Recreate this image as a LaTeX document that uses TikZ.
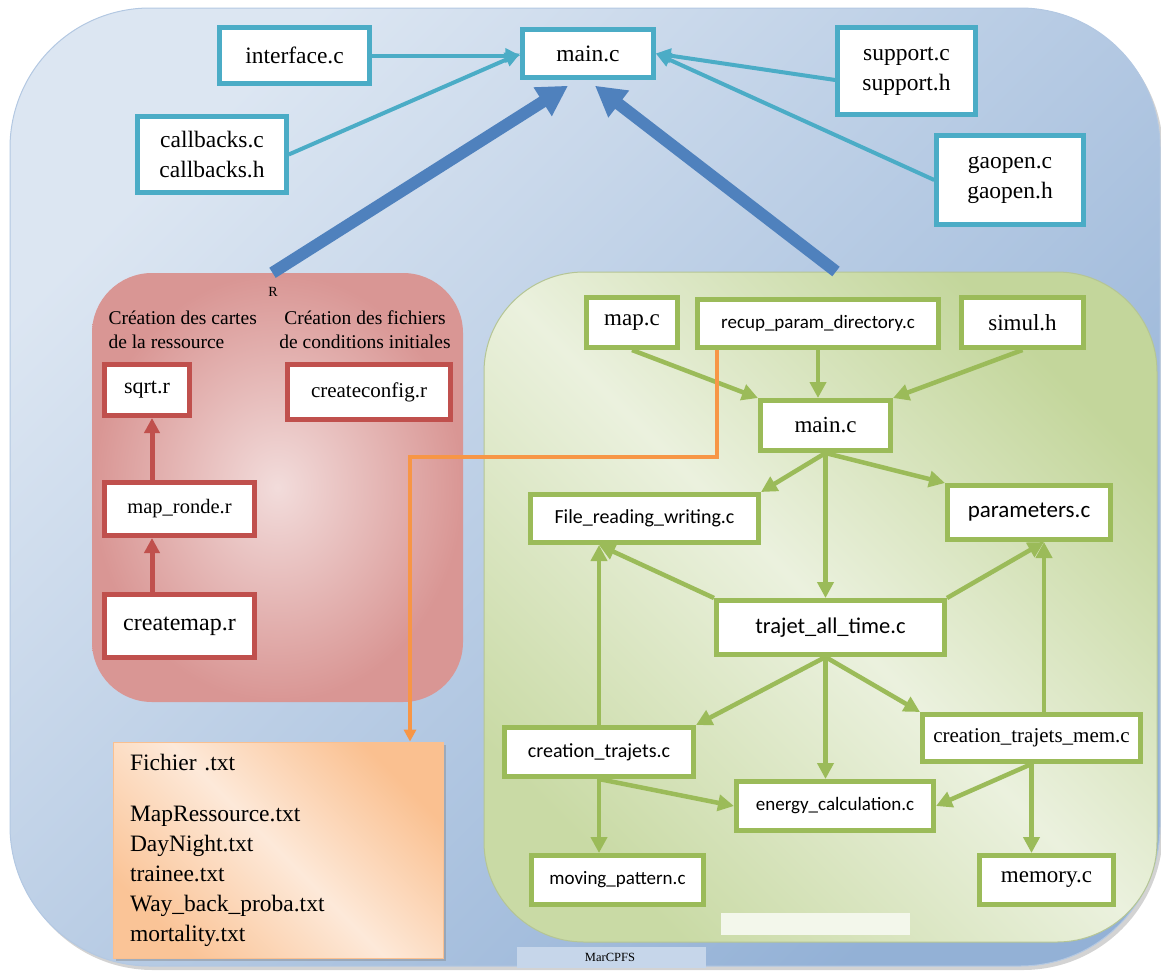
\documentclass[tikz,border=0pt]{standalone}
\usepackage{fontspec}
\setmainfont{Liberation Serif}
\newfontfamily\calib{Carlito}
\usetikzlibrary{arrows.meta,shadows,calc}

\definecolor{tealc}{HTML}{4BACC6}
\definecolor{bigblue}{HTML}{4F81BD}
\definecolor{redc}{HTML}{C0504D}
\definecolor{greenc}{HTML}{9BBB59}
\definecolor{orangec}{HTML}{F79646}
\definecolor{bluelight}{HTML}{DCE6F2}
\definecolor{bluedark}{HTML}{93B1D6}
\definecolor{pinklight}{HTML}{F2DCDB}
\definecolor{pinkdark}{HTML}{D99694}
\definecolor{greenlight}{HTML}{EBF1DE}
\definecolor{greendark}{HTML}{C3D69B}
\definecolor{peachlight}{HTML}{FDE9D9}
\definecolor{peachdark}{HTML}{FAC090}

\tikzset{
  serif/.style={font=\fontsize{#1}{#1}\selectfont},
  sans/.style={font=\calib\fontsize{#1}{#1}\selectfont},
  tbox/.style={draw=tealc, line width=4.5pt, fill=white, align=center, inner sep=0pt,
    font=\fontsize{23.5}{30}\selectfont},
  rbox/.style={draw=redc, line width=5pt, fill=white, inner sep=0pt},
  gbox/.style={draw=greenc, line width=5pt, fill=white, inner sep=0pt},
  tarrow/.style={draw=tealc, line width=4pt, -{Triangle[length=15pt,width=14pt]}},
  bigarrow/.style={draw=bigblue, line width=12pt, -{Triangle[length=30pt,width=32pt]}},
  rarrow/.style={draw=redc, line width=5pt, -{Triangle[length=15pt,width=15pt]}},
  garrow/.style={draw=greenc, line width=4.5pt, -{Triangle[length=16pt,width=16pt]}},
  oarrow/.style={draw=orangec, line width=3.5pt, -{Triangle[length=12pt,width=12pt]}},
}

\begin{document}
\begin{tikzpicture}[x=1pt,y=-1pt]
\useasboundingbox (0,0) rectangle (1161,972);

% groups
\node[top color=bluelight, bottom color=bluedark, shading angle=45,
  draw=bluedark!70, line width=1pt, rounded corners=140pt,
  drop shadow={opacity=0.35, shadow xshift=3pt, shadow yshift=-4pt},
  minimum width=1150pt, minimum height=958pt] (outer) at (585,487) {};
\node[inner color=pinklight, outer color=pinkdark, rounded corners=60pt,
  minimum width=371pt, minimum height=429pt] (rgroup) at (277.5,487.5) {};
\node[top color=greendark, bottom color=greendark!85!greenlight, middle color=greenlight,
  shading angle=-45, draw=greendark!80!gray, line width=1pt, rounded corners=100pt,
  minimum width=673pt, minimum height=670pt] (ggroup) at (820.5,607) {};
\fill[greenlight!60!white] (721,913) rectangle (910,935);
\fill[bluelight!70!bluedark] (517,947) rectangle (706,968);

% top files
\node[tbox, minimum width=150pt, minimum height=56pt] (iface) at (294.5,55.5) {interface.c};
\node[tbox, minimum width=131pt, minimum height=48pt] (mainc) at (588,53.5) {main.c};
\node[tbox, minimum width=149pt, minimum height=76pt] (callb) at (212,154.5) {callbacks.c\\callbacks.h};
\node[tbox, minimum width=138pt, minimum height=87pt] (support) at (906.5,71) {support.c\\support.h};
\node[tbox, minimum width=147pt, minimum height=89pt] (gaopen) at (1010,180) {gaopen.c\\gaopen.h};

\draw[tarrow] (iface.east) -- (iface.east -| mainc.west);
\draw[tarrow] (callb.east) -- (mainc.west);
\draw[tarrow] ([yshift=-9pt]support.west) -- (mainc.east);
\draw[tarrow] (gaopen.west) -- (mainc.east);

% R part
\node[serif=14] (rlabel) at (273,292) {R};
\node[serif=19.5, align=left, anchor=west] (cartes) at (105,330) {Création des cartes\\[4.5pt]de la ressource};
\node[serif=19.5, align=center] (fichiers) at (365,330) {Création des fichiers\\[4.5pt]de conditions initiales};
\node[rbox, serif=22, minimum width=85pt, minimum height=51pt] (sqrt) at (147,390) {sqrt.r};
\node[rbox, serif=21, minimum width=163pt, minimum height=55pt] (cconfig) at (369,392) {createconfig.r};
\node[rbox, serif=20.5, minimum width=150pt, minimum height=53pt] (mapronde) at (179.5,509) {map\_ronde.r};
\node[rbox, serif=24, minimum width=150pt, minimum height=63pt] (cmap) at (179.5,626) {createmap.r};

\draw[rarrow] ([xshift=5pt]sqrt.south |- mapronde.north) -- ([xshift=5pt]sqrt.south);
\draw[rarrow] ([xshift=5pt]sqrt.south |- cmap.north) -- ([xshift=5pt]sqrt.south |- mapronde.south);

% C part
\node[gbox, serif=23, minimum width=91pt, minimum height=50pt] (mapc) at (632,322.5) {map.c};
\node[gbox, sans=19, minimum width=241pt, minimum height=48pt] (recup) at (818,323.5) {recup\_param\_directory.c};
\node[gbox, serif=23, minimum width=122pt, minimum height=50pt] (simul) at (1022.5,322.5) {simul.h};
\node[gbox, serif=23, minimum width=130pt, minimum height=50pt] (gmain) at (825.5,425.5) {main.c};
\node[gbox, sans=20, minimum width=228pt, minimum height=48pt] (filerw) at (644.5,518.5) {File\_reading\_writing.c};
\node[gbox, sans=23, minimum width=163pt, minimum height=54pt] (params) at (1029,512.5) {parameters.c};
\node[gbox, sans=22.5, minimum width=228pt, minimum height=54pt] (trajet) at (830.5,627.5) {trajet\_all\_time.c};
\node[gbox, sans=20, minimum width=189pt, minimum height=49pt] (crtraj) at (599,752) {creation\_trajets.c};
\node[gbox, serif=21, minimum width=218pt, minimum height=47pt] (crmem) at (1031.5,738) {creation\_trajets\_mem.c};
\node[gbox, sans=19, minimum width=197pt, minimum height=49pt] (energy) at (835,806) {energy\_calculation.c};
\node[gbox, sans=19, minimum width=172pt, minimum height=49pt] (moving) at (617.5,880) {moving\_pattern.c};
\node[gbox, serif=23, minimum width=134pt, minimum height=49pt] (memory) at (1046.5,880) {memory.c};

\draw[garrow] (mapc.south) -- (gmain.north west);
\draw[garrow] (recup.south) -- (recup.south |- gmain.north);
\draw[garrow] (simul.south) -- (gmain.north east);
\draw[garrow] (gmain.south) -- (filerw.north east);
\draw[garrow] (gmain.south) -- (params.north west);
\draw[garrow] (gmain.south) -- (gmain.south |- trajet.north);
\draw[garrow] (trajet.north west) -- (crtraj.north |- filerw.south);
\draw[garrow] (crtraj.north) -- (crtraj.north |- filerw.south);
\draw[garrow] (trajet.north east) -- ([xshift=15pt]params.south);
\draw[garrow] ([xshift=15pt]params.south |- crmem.north) -- ([xshift=15pt]params.south);
\draw[garrow] (gmain.south |- trajet.south) -- (crtraj.north east);
\draw[garrow] (gmain.south |- trajet.south) -- (gmain.south |- energy.north);
\draw[garrow] (gmain.south |- trajet.south) -- (crmem.north west);
\draw[garrow] (crtraj.south) -- (energy.west);
\draw[garrow] (crtraj.south) -- (crtraj.south |- moving.north);
\draw[garrow] (crmem.south) -- (energy.east);
\draw[garrow] (crmem.south) -- (crmem.south |- memory.north);

% data files
\node[top color=peachdark, bottom color=peachdark!90!peachlight, middle color=peachlight,
  shading angle=-45, draw=peachdark, line width=0.8pt,
  drop shadow={opacity=0.4, shadow xshift=3pt, shadow yshift=-3pt},
  minimum width=330pt, minimum height=216pt, text width=296pt, inner xsep=17pt,
  align=left, font=\fontsize{23.5}{30}\selectfont] (txtbox) at (278,850)
  {Fichier .txt\\[21pt]MapRessource.txt\\DayNight.txt\\trainee.txt\\Way\_back\_proba.txt\\mortality.txt};

\coordinate (obend) at (410,457);
\draw[oarrow] ([xshift=22pt]recup.south west) |- (obend) -- (obend |- txtbox.north);

% links between parts
\draw[bigarrow] ([xshift=-5pt]rgroup.north) -- ([xshift=-20pt,yshift=-6pt]mainc.south);
\draw[bigarrow] (ggroup.north -| 836,0) -- ([xshift=7pt,yshift=-6pt]mainc.south);

\node[serif=12.5] (marc) at (610,957) {MarCPFS};
\end{tikzpicture}
\end{document}
